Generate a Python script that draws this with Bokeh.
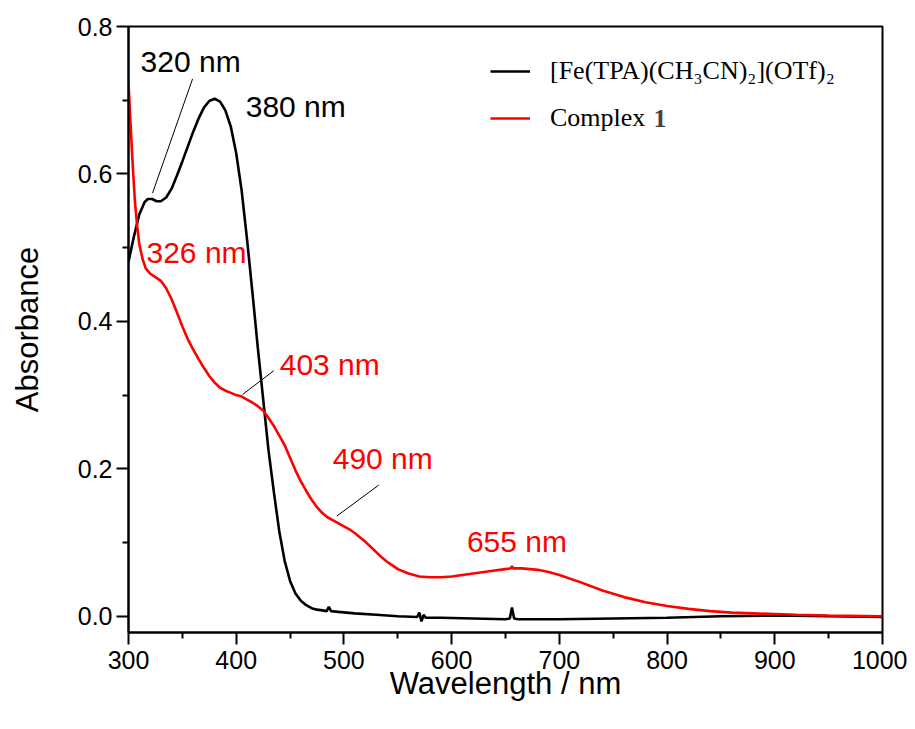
from bokeh.plotting import figure
from bokeh.models import Label, FixedTicker, NumeralTickFormatter, Range1d
from bokeh.embed import file_html
from bokeh.resources import INLINE

# ---- data ----
wl_fe = [300, 305, 310, 315, 318, 322, 326, 330, 335, 340, 345, 350, 355, 360, 365, 370,
         375, 380, 385, 390, 395, 400, 405, 410, 415, 420, 425, 430, 435, 440, 445, 450,
         455, 460, 465, 470, 475, 480, 484, 486, 488, 495, 510, 530, 550, 568, 570, 572,
         574, 576, 590, 620, 650, 654, 656, 658, 662, 700, 750, 800, 850, 900, 950, 1000]
abs_fe = [0.481, 0.515, 0.545, 0.562, 0.566, 0.566, 0.563, 0.563, 0.568, 0.580, 0.598, 0.617,
          0.637, 0.657, 0.675, 0.690, 0.699, 0.702, 0.698, 0.686, 0.664, 0.628, 0.578, 0.512,
          0.440, 0.365, 0.295, 0.225, 0.168, 0.115, 0.075, 0.048, 0.031, 0.021, 0.015, 0.011,
          0.009, 0.008, 0.007, 0.013, 0.007, 0.006, 0.004, 0.002, 0.000, -0.001, 0.005, -0.007,
          0.002, -0.002, -0.002, -0.003, -0.004, -0.003, 0.012, -0.003, -0.004, -0.004, -0.003,
          -0.002, 0.000, 0.001, 0.000, -0.001]

wl_c1 = [300, 302, 304, 306, 308, 310, 313, 316, 320, 325, 330, 335, 340, 345, 350, 355, 360,
         365, 370, 375, 380, 385, 390, 395, 400, 405, 410, 415, 420, 425, 430, 435, 440, 445,
         450, 455, 460, 465, 470, 475, 480, 485, 490, 495, 500, 505, 510, 515, 520, 525, 530,
         535, 540, 545, 550, 560, 570, 580, 590, 600, 610, 620, 630, 640, 650, 655, 656, 657,
         665, 680, 690, 700, 720, 740, 760, 780, 800, 820, 840, 860, 880, 900, 920, 950, 1000]
abs_c1 = [0.724, 0.665, 0.610, 0.562, 0.530, 0.505, 0.485, 0.472, 0.465, 0.460, 0.455, 0.445,
          0.430, 0.412, 0.393, 0.376, 0.362, 0.349, 0.337, 0.326, 0.317, 0.310, 0.306, 0.303,
          0.300, 0.298, 0.294, 0.290, 0.285, 0.279, 0.269, 0.258, 0.245, 0.232, 0.215, 0.198,
          0.183, 0.170, 0.158, 0.148, 0.140, 0.134, 0.130, 0.126, 0.122, 0.118, 0.113, 0.107,
          0.101, 0.094, 0.087, 0.080, 0.074, 0.069, 0.064, 0.058, 0.054, 0.053, 0.053, 0.054,
          0.056, 0.058, 0.060, 0.062, 0.064, 0.065, 0.068, 0.065, 0.065, 0.063, 0.060, 0.056,
          0.046, 0.035, 0.026, 0.019, 0.014, 0.010, 0.007, 0.005, 0.004, 0.003, 0.002, 0.001,
          0.000]

x_ticks = [300, 400, 500, 600, 700, 800, 900, 1000]
x_minor = [350, 450, 550, 650, 750, 850, 950]
y_ticks = [0.0, 0.2, 0.4, 0.6, 0.8]
y_minor = [0.1, 0.3, 0.5, 0.7]

legend_fe = "[Fe(TPA)(CH\u2083CN)\u2082](OTf)\u2082"
legend_c1 = "Complex"
legend_c1_bold = "1"

# annotations: text, x (nm), y (abs), colour
ann_text = ["320 nm", "380 nm", "326 nm", "403 nm", "490 nm", "655 nm"]
ann_x = [311.2, 408.8, 316.7, 440.4, 489.6, 614.2]
ann_y = [0.752, 0.691, 0.494, 0.342, 0.2145, 0.102]
ann_color = ["black", "black", "red", "red", "red", "red"]

# leader lines
lead_x0 = [322.3, 406.0, 493.4]
lead_y0 = [0.574, 0.301, 0.136]
lead_x1 = [359.5, 434.8, 532.4]
lead_y1 = [0.729, 0.333, 0.178]

p = figure(width=907, height=721, output_backend="svg", toolbar_location=None,
           x_range=Range1d(300, 1000), y_range=Range1d(-0.022, 0.8),
           min_border_left=128, min_border_right=25, min_border_top=26,
           min_border_bottom=89)
p.background_fill_color = "white"
p.border_fill_color = "white"
p.xgrid.visible = False
p.ygrid.visible = False
p.outline_line_color = "black"
p.outline_line_width = 2
p.outline_line_alpha = 1.0

p.line(wl_fe, abs_fe, line_color="black", line_width=2.6, legend_label=legend_fe)
p.line(wl_c1, abs_c1, line_color="red", line_width=2.6, legend_label=legend_c1)

p.segment(lead_x0, lead_y0, lead_x1, lead_y1, line_color="black", line_width=1)

for t, x, y, c in zip(ann_text, ann_x, ann_y, ann_color):
    p.add_layout(Label(x=x, y=y, text=t, text_color=c, text_font="Liberation Sans",
                       text_font_size="30px", text_align="left", text_baseline="middle"))

# axes
for ax in (p.xaxis[0], p.yaxis[0]):
    ax.axis_line_width = 2
    ax.major_tick_line_width = 2
    ax.minor_tick_line_width = 2
    ax.major_tick_out = 12
    ax.major_tick_in = 0
    ax.minor_tick_out = 6
    ax.minor_tick_in = 0
    ax.major_label_text_font = "Liberation Sans"
    ax.major_label_text_font_size = "25px"
    ax.major_label_text_color = "black"
    ax.axis_label_text_font = "Liberation Sans"
    ax.axis_label_text_font_size = "31px"
    ax.axis_label_text_font_style = "normal"
    ax.axis_label_text_color = "black"

p.xaxis.ticker = FixedTicker(ticks=x_ticks, minor_ticks=x_minor)
p.yaxis.ticker = FixedTicker(ticks=y_ticks, minor_ticks=y_minor)
p.yaxis.formatter = NumeralTickFormatter(format="0.0")
p.xaxis.axis_label = "Wavelength / nm"
p.yaxis.axis_label = "Absorbance"
p.xaxis.major_label_standoff = 6
p.yaxis.major_label_standoff = 4
p.xaxis.axis_label_standoff = -6
p.yaxis.axis_label_standoff = 30

leg = p.legend[0]
leg.location = (362, 499)
leg.border_line_color = None
leg.background_fill_alpha = 0
leg.padding = 0
leg.margin = 0
leg.glyph_width = 40
leg.glyph_height = 30
leg.label_height = 30
leg.spacing = 17
leg.label_standoff = 20
leg.label_text_font = "Liberation Serif"
leg.label_text_font_size = "26px"
leg.label_text_color = "black"

p.add_layout(Label(x=525, y=514, x_units="screen", y_units="screen", text=legend_c1_bold,
                   text_font="Liberation Serif", text_font_size="26px",
                   text_font_style="bold", text_baseline="middle", text_align="left"))

open("out.html", "w").write(file_html(p, INLINE))
